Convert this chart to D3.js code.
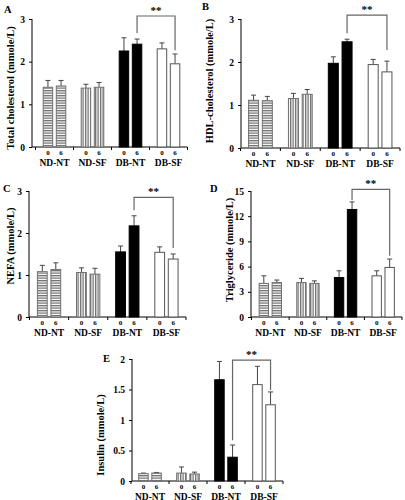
<!DOCTYPE html>
<html><head><meta charset="utf-8">
<script src="https://cdn.jsdelivr.net/npm/d3@7"></script>
<style>
html,body{margin:0;padding:0;background:#fff;}
svg{display:block;font-family:"Liberation Serif","Times New Roman",serif;font-weight:bold;}
</style></head>
<body>
<svg id="chart" width="405" height="500"></svg>
<script>
// ---------- DATA ----------
const groups = ["ND-NT", "ND-SF", "DB-NT", "DB-SF"];
const times = ["0", "6"];

const cholMean = [[1.40, 1.43], [1.38, 1.40], [2.25, 2.41], [2.30, 1.95]];
const cholErr  = [[0.16, 0.13], [0.09, 0.11], [0.31, 0.12], [0.14, 0.23]];

const hdlMean = [[1.11, 1.10], [1.15, 1.25], [1.97, 2.47], [1.94, 1.77]];
const hdlErr  = [[0.12, 0.10], [0.12, 0.11], [0.15, 0.06], [0.12, 0.25]];

const nefaMean = [[1.08, 1.13], [1.06, 1.02], [1.55, 2.17], [1.54, 1.38]];
const nefaErr  = [[0.15, 0.16], [0.11, 0.14], [0.14, 0.24], [0.13, 0.12]];

const tgMean = [[4.0, 4.1], [4.1, 4.0], [4.7, 12.8], [4.9, 5.9]];
const tgErr  = [[0.9, 0.3], [0.5, 0.3], [0.8, 0.9], [0.6, 1.0]];

const insMean = [[0.12, 0.13], [0.13, 0.115], [1.66, 0.39], [1.58, 1.25]];
const insErr  = [[0.01, 0.01], [0.10, 0.03], [0.30, 0.20], [0.30, 0.21]];

const cholTicks = [0, 1, 2, 3];
const hdlTicks = [0, 1, 2, 3];
const nefaTicks = [0, 1, 2, 3];
const tgTicks = [0, 3, 6, 9, 12, 15];
const insTicks = [0, 0.5, 1, 1.5, 2];

// bracket: [top level, left end, right end] in data units
const cholBracket = [3.07, 2.67, 2.27];
const hdlBracket  = [3.09, 2.67, 2.28];
const nefaBracket = [2.85, 2.54, 1.64];
const tgBracket   = [15.2, 13.9, 7.3];
const insBracket  = [1.98, 0.67, 1.49];

const panelLetters = ["A", "B", "C", "D", "E"];
const yTitles = ["Total cholesterol (mmole/L)", "HDL-cholesterol (mmole/L)",
  "NEFA (mmole/L)", "Triglyceride (mmole/L)", "Insulin (mmole/L)"];
const sigLabel = "**";

// ---------- LAYOUT ----------
const panels = [
  {letter: panelLetters[0], title: yTitles[0], mean: cholMean, err: cholErr, ticks: cholTicks, br: cholBracket,
   ax: 32, xr: [35.5, 187.5], yr: [147, 19], lx: 4, ly: 13, tx: 10, ty: 88},
  {letter: panelLetters[1], title: yTitles[1], mean: hdlMean, err: hdlErr, ticks: hdlTicks, br: hdlBracket,
   ax: 241, xr: [240.5, 400], yr: [148, 19], lx: 202, ly: 10, tx: 209, ty: 81},
  {letter: panelLetters[2], title: yTitles[2], mean: nefaMean, err: nefaErr, ticks: nefaTicks, br: nefaBracket,
   ax: 29, xr: [29.5, 186], yr: [317, 191], lx: 3, ly: 192, tx: 10, ty: 246},
  {letter: panelLetters[3], title: yTitles[3], mean: tgMean, err: tgErr, ticks: tgTicks, br: tgBracket,
   ax: 251, xr: [251.5, 402], yr: [317, 191], lx: 210, ly: 192, tx: 229, ty: 250},
  {letter: panelLetters[4], title: yTitles[4], mean: insMean, err: insErr, ticks: insTicks, br: insBracket,
   ax: 132, xr: [131, 283], yr: [481, 359], lx: 103, ly: 362, tx: 100, ty: 435}
];

const svg = d3.select("#chart");
const defs = svg.append("defs");
const ph = defs.append("pattern").attr("id", "hstripe").attr("patternUnits", "userSpaceOnUse")
  .attr("width", 4).attr("height", 2.5);
ph.append("rect").attr("width", 4).attr("height", 2.5).attr("fill", "#fff");
ph.append("rect").attr("width", 4).attr("height", 1.3).attr("fill", "#707070");
const pv = defs.append("pattern").attr("id", "vstripe").attr("patternUnits", "userSpaceOnUse")
  .attr("width", 2.5).attr("height", 4);
pv.append("rect").attr("width", 2.5).attr("height", 4).attr("fill", "#fff");
pv.append("rect").attr("width", 1.3).attr("height", 4).attr("fill", "#707070");

const fills = {"ND-NT": "url(#hstripe)", "ND-SF": "url(#vstripe)", "DB-NT": "#000", "DB-SF": "#fff"};
const strokes = {"ND-NT": "#707070", "ND-SF": "#707070", "DB-NT": "#000", "DB-SF": "#555"};

panels.forEach(p => {
  const g = svg.append("g");
  const max = p.ticks[p.ticks.length - 1];
  const y = d3.scaleLinear().domain([0, max]).range(p.yr);
  const x0 = d3.scaleBand().domain(groups).range(p.xr).padding(0);
  const x1 = d3.scaleBand().domain(times).range([0, x0.bandwidth()]).paddingInner(0.2).paddingOuter(0.55);

  // y axis
  const ya = g.append("g").attr("transform", `translate(${p.ax},0)`)
    .call(d3.axisLeft(y).tickValues(p.ticks).tickSize(3).tickPadding(4).tickFormat(d => String(d)));
  ya.select(".domain").attr("d", `M0,${y(0)}V${y(max)}`).attr("stroke", "#000");
  ya.selectAll("text").attr("font-size", 9.5).attr("font-weight", "bold")
    .attr("font-family", '"Liberation Serif","Times New Roman",serif').attr("fill", "#000");

  // x axis line
  g.append("line").attr("x1", p.ax).attr("x2", p.xr[1]).attr("y1", y(0)).attr("y2", y(0))
    .attr("stroke", "#000");
  const bounds = groups.map(d => x0(d)).concat([p.xr[1]]);
  g.selectAll(".xt").data(bounds).join("line")
    .attr("x1", d => d).attr("x2", d => d).attr("y1", y(0)).attr("y2", y(0) + 3).attr("stroke", "#000");

  // bars
  groups.forEach((grp, gi) => {
    times.forEach((t, ti) => {
      const v = p.mean[gi][ti], e = p.err[gi][ti];
      const bx = x0(grp) + x1(t);
      const bw = x1.bandwidth();
      const cx = bx + bw / 2;
      // error bar (upper only)
      g.append("line").attr("x1", cx).attr("x2", cx).attr("y1", y(v)).attr("y2", y(v + e))
        .attr("stroke", "#444").attr("stroke-width", 1);
      g.append("line").attr("x1", cx - 2.5).attr("x2", cx + 2.5).attr("y1", y(v + e)).attr("y2", y(v + e))
        .attr("stroke", "#444").attr("stroke-width", 1);
      g.append("rect").attr("x", bx + 0.5).attr("y", y(v)).attr("width", bw - 1).attr("height", y(0) - y(v))
        .attr("fill", fills[grp]).attr("stroke", strokes[grp]).attr("stroke-width", 1);
      g.append("text").attr("x", cx).attr("y", y(0) + 8).attr("text-anchor", "middle")
        .attr("font-size", 7).attr("fill", "#000").text(t);
    });
    g.append("text").attr("x", x0(grp) + x0.bandwidth() / 2).attr("y", y(0) + 18.5)
      .attr("text-anchor", "middle").attr("font-size", 9.5).text(grp);
  });

  // bracket
  const lx = x0("DB-NT") + x1("6") + x1.bandwidth() / 2;
  const rx = x0("DB-SF") + x1("6") + x1.bandwidth() / 2;
  g.append("path").attr("d", `M${lx},${y(p.br[1])}V${y(p.br[0])}H${rx}V${y(p.br[2])}`)
    .attr("fill", "none").attr("stroke", "#666").attr("stroke-width", 1.2);
  g.append("text").attr("x", (lx + rx) / 2).attr("y", y(p.br[0]) - 2.5).attr("text-anchor", "middle")
    .attr("font-size", 11).text(sigLabel);

  // panel letter
  g.append("text").attr("x", p.lx).attr("y", p.ly).attr("font-size", 10.5).text(p.letter);
  // y title
  g.append("text").attr("transform", `translate(${p.tx + 3.5},${p.ty}) rotate(-90)`)
    .attr("text-anchor", "middle").attr("font-size", 10.5).text(p.title);
});
</script>
</body></html>
